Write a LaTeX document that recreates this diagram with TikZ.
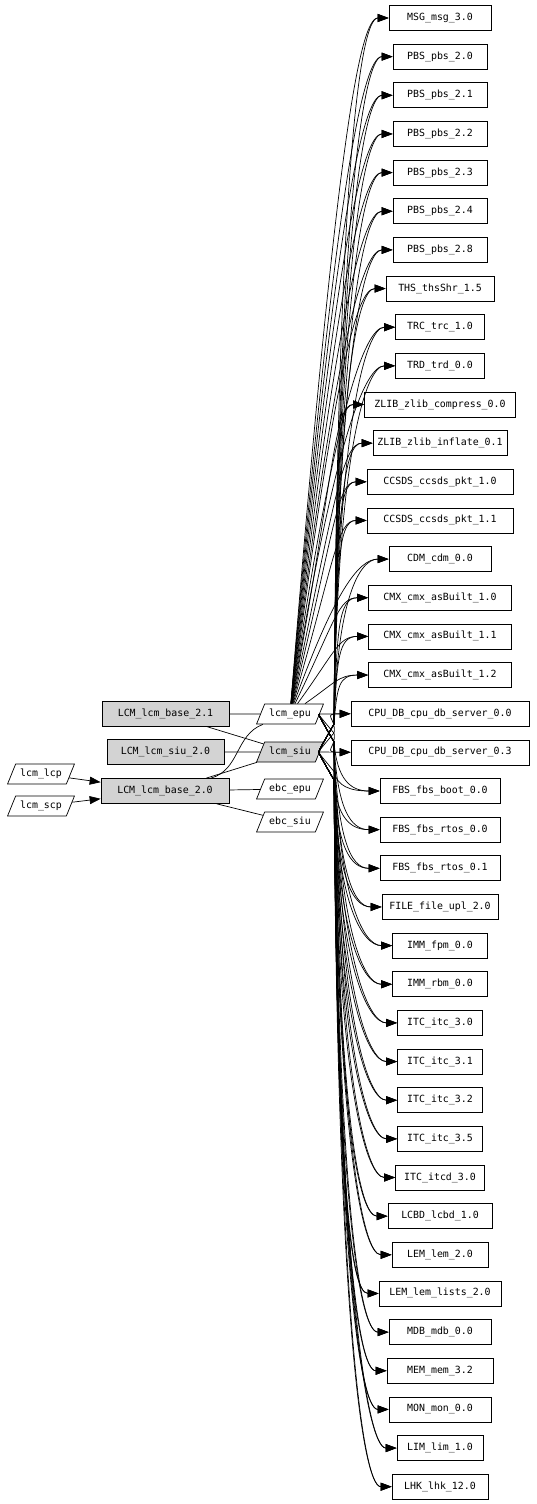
\documentclass[tikz,border=0pt]{standalone}
\usepackage{fontspec}
\setmonofont{DejaVu Sans Mono}
\usetikzlibrary{arrows.meta,positioning,shapes.geometric,calc}
\definecolor{pkggray}{HTML}{D3D3D3}

\begin{document}
\begin{tikzpicture}[x=1pt,y=1pt,font=\ttfamily\fontsize{9.9}{11}\selectfont,
  line width=0.7pt,
  pkg/.style={draw,rectangle,minimum height=25pt,text height=7.5pt,text depth=2.5pt},
  grp/.style={pkg,fill=pkggray},
  iface/.style={draw,trapezium,trapezium left angle=68,trapezium right angle=112,
                inner xsep=4.5pt,inner ysep=5pt,text height=7.5pt,text depth=2.5pt},
  dep/.style={-{Triangle[length=11pt,width=8pt]}},
  link/.style={-}]
\useasboundingbox (0,0) rectangle (536,-1504);
% left side
\node[iface] (lcp) at (41,-774) {lcm\_lcp};
\node[iface] (scp) at (41,-806) {lcm\_scp};
\node[grp,minimum width=127pt] (base21) at (165.5,-714) {LCM\_lcm\_base\_2.1};
\node[grp,minimum width=117pt] (siu20) at (165.5,-752) {LCM\_lcm\_siu\_2.0};
\node[grp,minimum width=128pt] (base20) at (165,-791) {LCM\_lcm\_base\_2.0};
\node[iface] (epu) at (290,-714) {lcm\_epu};
\node[iface,fill=pkggray] (siu) at (290,-752) {lcm\_siu};
\node[iface] (ebcepu) at (290,-789) {ebc\_epu};
\node[iface] (ebcsiu) at (290,-822) {ebc\_siu};
\draw[dep] (lcp) -- (base20);
\draw[dep] (scp) -- (base20);
\draw[link] (base21) -- (epu);
\draw[link] (base21) -- (siu);
\draw[link] (siu20) -- (siu);
\draw[link] (base20) .. controls (240,-770) and (235,-735) .. (epu);
\draw[link] (base20) -- (siu);
\draw[link] (base20) -- (ebcepu);
\draw[link] (base20) -- (ebcsiu);
% used packages, all fed by lcm_epu and lcm_siu
\foreach \lbl/\w [count=\i from 0] in {
  MSG\_msg\_3.0/102, PBS\_pbs\_2.0/94, PBS\_pbs\_2.1/94, PBS\_pbs\_2.2/94,
  PBS\_pbs\_2.3/94, PBS\_pbs\_2.4/94, PBS\_pbs\_2.8/94, THS\_thsShr\_1.5/108,
  TRC\_trc\_1.0/89, TRD\_trd\_0.0/89, ZLIB\_zlib\_compress\_0.0/151,
  ZLIB\_zlib\_inflate\_0.1/134, CCSDS\_ccsds\_pkt\_1.0/146, CCSDS\_ccsds\_pkt\_1.1/146,
  CDM\_cdm\_0.0/102, CMX\_cmx\_asBuilt\_1.0/143, CMX\_cmx\_asBuilt\_1.1/143,
  CMX\_cmx\_asBuilt\_1.2/143, CPU\_DB\_cpu\_db\_server\_0.0/178,
  CPU\_DB\_cpu\_db\_server\_0.3/178, FBS\_fbs\_boot\_0.0/120, FBS\_fbs\_rtos\_0.0/120,
  FBS\_fbs\_rtos\_0.1/120, FILE\_file\_upl\_2.0/116, IMM\_fpm\_0.0/95, IMM\_rbm\_0.0/95,
  ITC\_itc\_3.0/85, ITC\_itc\_3.1/85, ITC\_itc\_3.2/85, ITC\_itc\_3.5/85,
  ITC\_itcd\_3.0/89, LCBD\_lcbd\_1.0/104, LEM\_lem\_2.0/96, LEM\_lem\_lists\_2.0/122,
  MDB\_mdb\_0.0/102, MEM\_mem\_3.2/106, MON\_mon\_0.0/102, LIM\_lim\_1.0/86,
  LHK\_lhk\_12.0/96}{
  \pgfmathsetmacro\yt{-18-38.65*\i}
  \node[pkg,minimum width=\w pt] (t\i) at (440,\yt) {\lbl};
  \foreach \src/\ys/\k in {epu/-714/0,siu/-752/1}{
    \pgfmathsetmacro\dy{\yt-(\ys)}
    \pgfmathsetmacro\wy{\ys+sign(\dy)*min(28,abs(\dy)/2)}
    \pgfmathtruncatemacro\mode{abs(\dy)<5 ? 2 : ((\k==0 && \dy>0) ? 1 : 0)}
    \ifcase\mode
      \draw[dep] (\src) .. controls (318,\ys) .. (334,\wy)
        .. controls (337,{\wy+0.75*(\yt-\wy)}) and ({410-\w/2},\yt) .. (t\i);
    \or
      \draw[dep] (\src) .. controls (335,{(\ys)+0.8*\dy}) and ({410-\w/2},\yt) .. (t\i);
    \or
      \draw[dep] (\src) -- (t\i);
    \fi
  }
}
\end{tikzpicture}
\end{document}
